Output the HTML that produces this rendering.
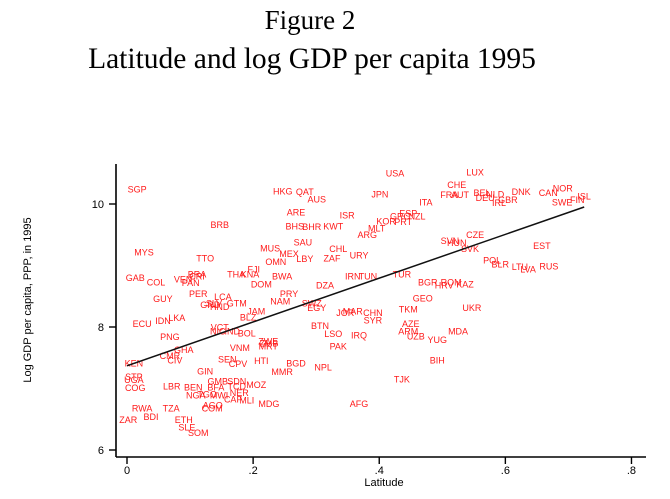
<!DOCTYPE html>
<html><head><meta charset="utf-8"><style>
body{margin:0;background:#fff;}
svg{display:block;}
</style></head><body>
<svg id="chart" width="670" height="499" viewBox="0 0 670 499">
<text x="310" y="29" font-family="Liberation Serif, serif" font-size="27" text-anchor="middle">Figure 2</text>
<text x="312" y="68" font-family="Liberation Serif, serif" font-size="29.5" text-anchor="middle">Latitude and log GDP per capita 1995</text>
<g id="axes"></g>
<g id="marks"></g>
<g id="fit"></g>
<text x="31" y="300" transform="rotate(-90 31 300)" font-family="Liberation Sans, sans-serif" font-size="11" text-anchor="middle">Log GDP per capita, PPP, in 1995</text>
<text x="384" y="486" font-family="Liberation Sans, sans-serif" font-size="11" text-anchor="middle">Latitude</text>
</svg>
<script>
const countries=["SGP","HKG","QAT","AUS","ARE","BRB","BHS","BHR","SAU","MUS","MEX","LBY","MYS","TTO","OMN","FJI","THA","KNA","BWA","GAB","COL","VEN","BRA","CRI","PAN","DOM","GUY","PER","LCA","PRY","NAM","GTM","GRD","SLV","HND","JAM","BLZ","VCT","NIC","IND","BOL","ZWE","ZMB","MRT","VNM","SEN","CPV","HTI","BGD","MMR","NPL","GIN","GMB","SDN","BFA","TCD","MOZ","NGA","TGO","MWI","NER","MLI","CAF","MDG","AGO","COM","ECU","IDN","LKA","PNG","GHA","CMR","CIV","BEN","KEN","UGA","STP","COG","LBR","RWA","TZA","BDI","ZAR","ETH","SLE","SOM","USA","LUX","CHE","FRA","AUT","JPN","ITA","ISR","ESP","GRC","NZL","KOR","PRT","KWT","MLT","ARG","SVN","HUN","CZE","SVK","CHL","URY","ZAF","IRN","TUN","TUR","DZA","BGR","ROM","HRV","KAZ","GEO","SWZ","EGY","JOR","MAR","CHN","SYR","TKM","UKR","BTN","LSO","IRQ","AZE","ARM","UZB","YUG","MDA","PAK","BIH","TJK","AFG","BEL","NLD","DEU","IRL","GBR","DNK","CAN","NOR","SWE","FIN","ISL","EST","POL","BLR","LTU","LVA","RUS"];
const latitude=[.016,.247,.282,.301,.268,.147,.266,.293,.279,.227,.257,.282,.027,.124,.236,.201,.173,.195,.246,.013,.046,.089,.111,.111,.101,.213,.057,.113,.152,.257,.243,.174,.132,.138,.147,.205,.192,.147,.144,.167,.190,.224,.225,.224,.179,.159,.176,.213,.268,.246,.311,.124,.144,.174,.141,.174,.205,.109,.127,.146,.178,.190,.168,.225,.136,.135,.024,.057,.079,.068,.090,.068,.076,.105,.011,.011,.011,.013,.071,.024,.070,.038,.002,.090,.095,.113,.425,.552,.523,.511,.528,.401,.474,.349,.446,.433,.460,.411,.438,.327,.396,.381,.512,.523,.552,.544,.335,.368,.325,.358,.382,.436,.314,.477,.514,.503,.536,.469,.293,.301,.346,.358,.390,.390,.446,.547,.306,.327,.368,.450,.446,.458,.492,.525,.335,.492,.436,.368,.563,.584,.568,.590,.604,.625,.668,.691,.690,.714,.725,.658,.579,.592,.623,.636,.669];
const loggdp=[10.24,10.21,10.20,10.08,9.87,9.66,9.64,9.63,9.38,9.28,9.19,9.11,9.22,9.12,9.06,8.94,8.86,8.86,8.83,8.80,8.73,8.78,8.86,8.83,8.72,8.70,8.46,8.54,8.49,8.54,8.42,8.39,8.36,8.39,8.33,8.26,8.16,8.00,7.93,7.93,7.90,7.77,7.74,7.69,7.66,7.48,7.40,7.45,7.41,7.27,7.35,7.28,7.12,7.12,7.02,7.04,7.06,6.89,6.91,6.89,6.93,6.81,6.83,6.75,6.73,6.68,8.05,8.10,8.15,7.84,7.63,7.53,7.46,7.02,7.41,7.14,7.19,7.01,7.04,6.68,6.68,6.54,6.49,6.49,6.37,6.28,10.50,10.52,10.31,10.15,10.15,10.16,10.03,9.82,9.85,9.80,9.80,9.72,9.71,9.64,9.61,9.50,9.40,9.37,9.50,9.27,9.27,9.17,9.12,8.83,8.83,8.86,8.68,8.73,8.73,8.68,8.70,8.47,8.39,8.31,8.23,8.26,8.23,8.11,8.29,8.31,8.02,7.89,7.87,8.05,7.93,7.85,7.79,7.93,7.69,7.46,7.15,6.75,10.18,10.16,10.10,10.02,10.07,10.20,10.18,10.26,10.03,10.07,10.13,9.32,9.09,9.02,8.98,8.94,8.99];
const xTicks=[0,.2,.4,.6,.8];
const xTickLabels=["0",".2",".4",".6",".8"];
const yTicks=[6,8,10];
const yTickLabels=["6","8","10"];
const fitIntercept=[7.37];
const fitSlope=[3.56];
const fitRange=[0.0,0.725];

const NS="http://www.w3.org/2000/svg";
function xs(v){return 127+v*630.6;}
function ys(v){return 204+(10-v)*61.5;}
function mk(tag,attrs,parent){const e=document.createElementNS(NS,tag);for(const k in attrs)e.setAttribute(k,attrs[k]);parent.appendChild(e);return e;}
const axes=document.getElementById('axes');
let l=mk('line',{x1:116,y1:164,x2:116,y2:457,stroke:'#000','stroke-width':1.6},axes);


l=mk('line',{x1:116,y1:457,x2:646,y2:457,stroke:'#000','stroke-width':1.6},axes);


yTicks.forEach((t,i)=>{
  const tk=mk('line',{x1:109,y1:ys(t),x2:116,y2:ys(t),stroke:'#000','stroke-width':1.4},axes);
  
  
  const tx=mk('text',{x:104,y:ys(t)+4,'text-anchor':'end','font-family':'Liberation Sans, sans-serif','font-size':11},axes);
  tx.textContent=yTickLabels[i];
  
  
});
xTicks.forEach((t,i)=>{
  const tk=mk('line',{x1:xs(t),y1:457,x2:xs(t),y2:464,stroke:'#000','stroke-width':1.4},axes);
  
  
  const tx=mk('text',{x:xs(t),y:474,'text-anchor':'middle','font-family':'Liberation Sans, sans-serif','font-size':11},axes);
  tx.textContent=xTickLabels[i];
  
  
});
const marks=document.getElementById('marks');
countries.forEach((c,i)=>{
  const t=mk('text',{x:xs(latitude[i]),y:ys(loggdp[i])+3.3,'text-anchor':'middle','font-family':'Liberation Sans, sans-serif','font-size':9,fill:'#ff1a1a'},marks);
  t.textContent=c;
  
  
});
const fit=document.getElementById('fit');
const fl=mk('line',{x1:xs(fitRange[0]),y1:ys(fitIntercept[0]+fitSlope[0]*fitRange[0]),x2:xs(fitRange[1]),y2:ys(fitIntercept[0]+fitSlope[0]*fitRange[1]),stroke:'#111','stroke-width':1.5},fit);


</script>
</body></html>
